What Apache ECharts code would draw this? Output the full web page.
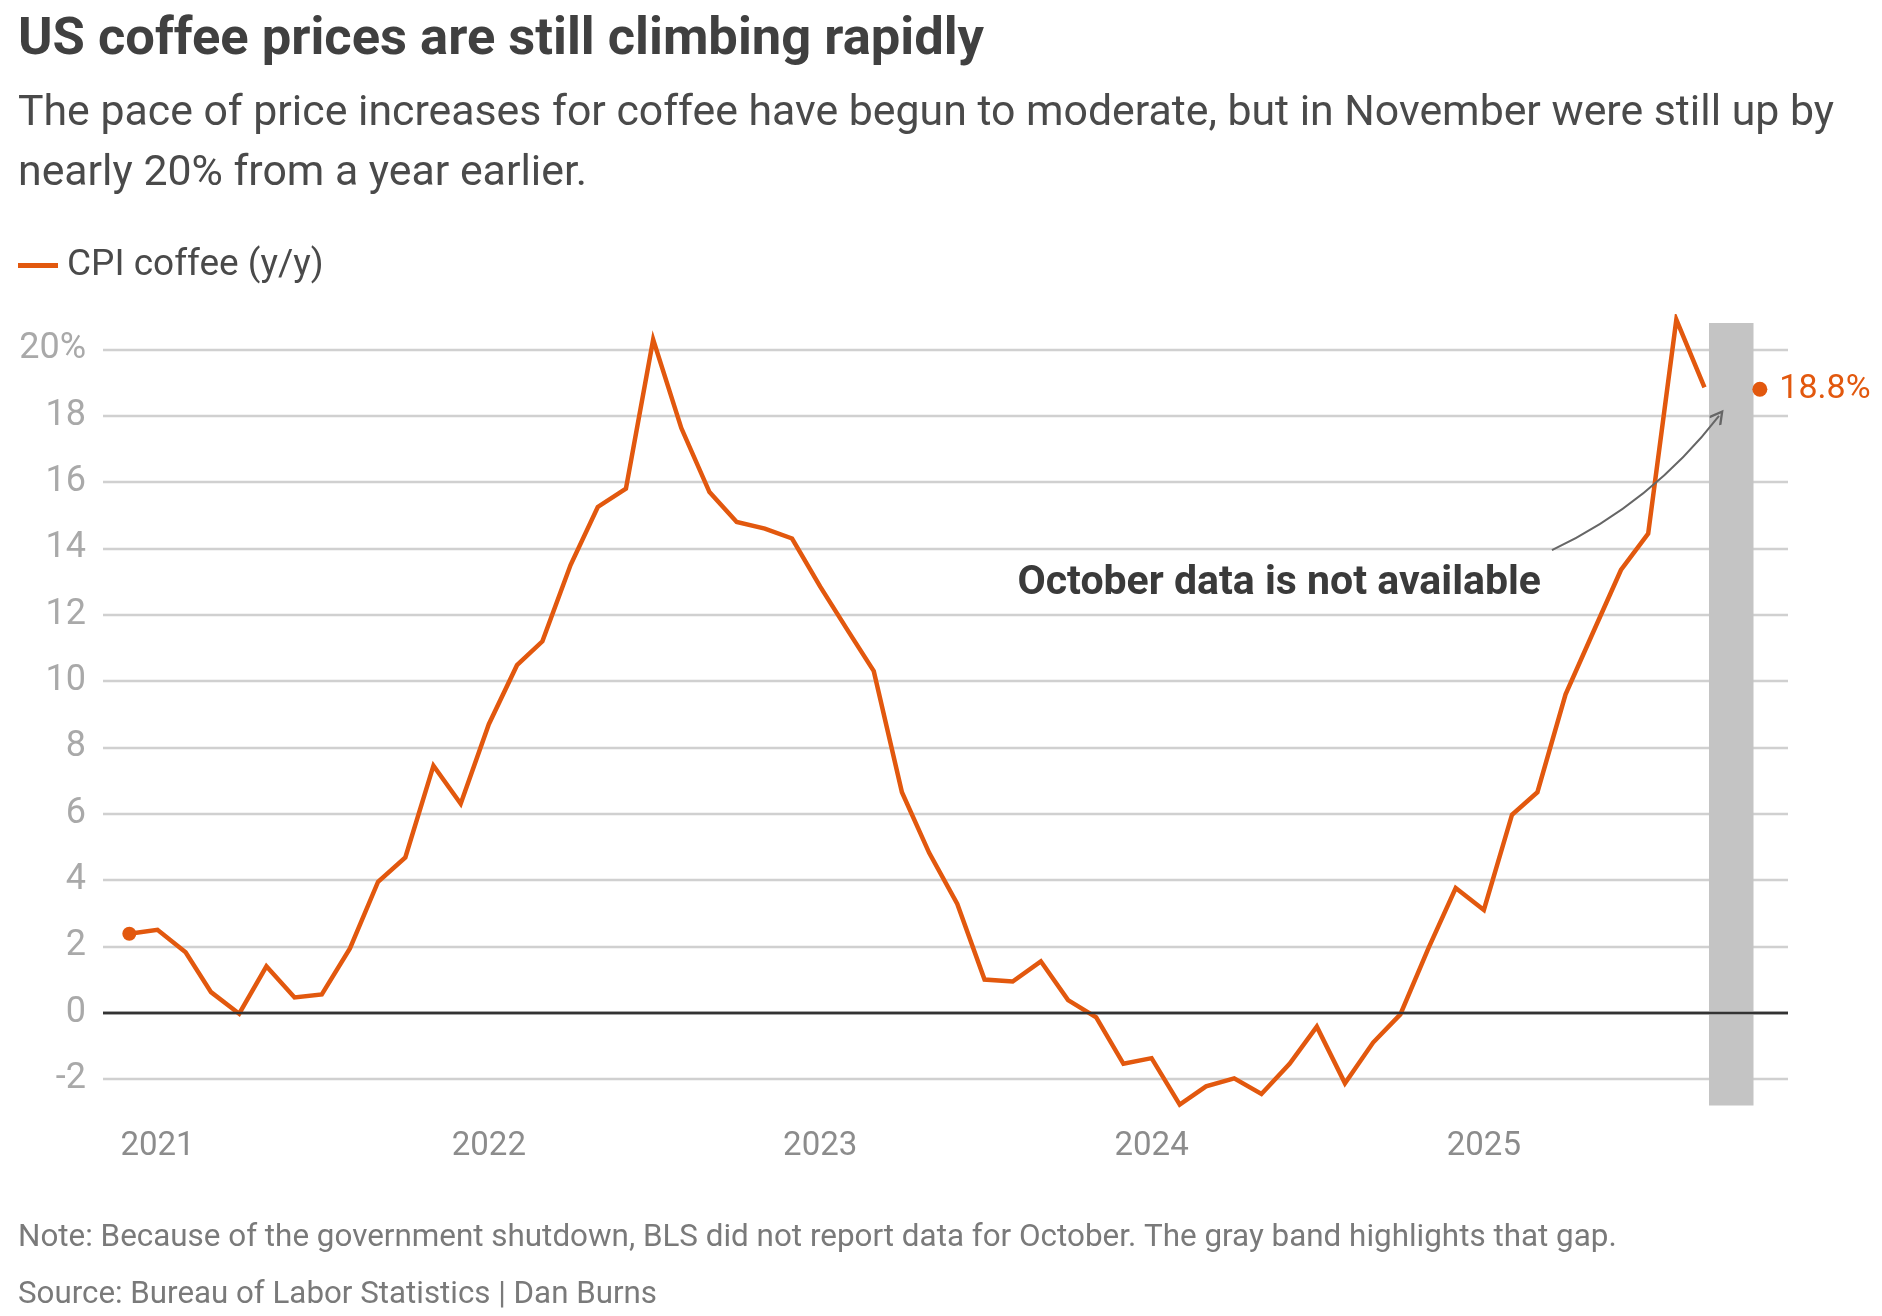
<!DOCTYPE html>
<html>
<head>
<meta charset="utf-8">
<title>US coffee prices are still climbing rapidly</title>
<script src="https://cdn.jsdelivr.net/npm/echarts@6.0.0/dist/echarts.min.js"></script>
<style>
  html, body { margin: 0; padding: 0; background: #fff; }
  #chart { width: 1882px; height: 1316px; }
</style>
</head>
<body>
<div id="chart"></div>
<script>
// ---- data (CPI coffee, y/y %) ----
var months = [
  '2020-12',
  '2021-01', '2021-02', '2021-03', '2021-04', '2021-05', '2021-06',
  '2021-07', '2021-08', '2021-09', '2021-10', '2021-11', '2021-12',
  '2022-01', '2022-02', '2022-03', '2022-04', '2022-05', '2022-06',
  '2022-07', '2022-08', '2022-09', '2022-10', '2022-11', '2022-12',
  '2023-01', '2023-02', '2023-03', '2023-04', '2023-05', '2023-06',
  '2023-07', '2023-08', '2023-09', '2023-10', '2023-11', '2023-12',
  '2024-01', '2024-02', '2024-03', '2024-04', '2024-05', '2024-06',
  '2024-07', '2024-08', '2024-09', '2024-10', '2024-11', '2024-12',
  '2025-01', '2025-02', '2025-03', '2025-04', '2025-05', '2025-06',
  '2025-07', '2025-08', '2025-09', '2025-10', '2025-11'
];
var cpiCoffee = [
  2.38,
  2.50, 1.82, 0.62, -0.03, 1.40, 0.46,
  0.55, 1.94, 3.95, 4.68, 7.45, 6.30,
  8.70, 10.48, 11.20, 13.50, 15.25, 15.80,
  20.30, 17.63, 15.70, 14.80, 14.60, 14.30,
  12.85, 11.50, 10.30, 6.65, 4.82, 3.28,
  1.00, 0.94, 1.55, 0.38, -0.14, -1.54,
  -1.37, -2.77, -2.22, -1.98, -2.45, -1.54,
  -0.42, -2.13, -0.90, -0.05, 1.95, 3.76,
  3.10, 5.97, 6.65, 9.60, 11.45, 13.35,
  14.45, 20.90, 18.86, null, 18.80
];
var yLabelled = [-2, 0, 2, 4, 6, 8, 10, 12, 14, 16, 18, 20];
var gapMonth = ['2025-09-06', '2025-10-25'];   // October: not reported
var gapRange = [-2.8, 20.8];
var arrowTip = ['2025-09-17', 18.0];
var arrowTail = ['2025-03-17', 13.95];

var orange = '#e2580e';
var ink = '#404040';
var muted = '#8c8c8c';
var font = 'Roboto, "Noto Sans", sans-serif';
var chevron = 'path://M2,12 L10,2 L18,12 L16.2,13.4 L10,5.6 L3.8,13.4 Z';

function toTime(s) {
  return (echarts.time && echarts.time.parse) ? +echarts.time.parse(s) : new Date(s).getTime();
}

// every value tick gets a line, only even ones are visible
var yMin = -3, yMax = 21;
var gridColors = [];
for (var v = yMin; v <= yMax; v++) {
  gridColors.push(v % 2 !== 0 ? 'rgba(0,0,0,0)' : (v === 0 ? '#333333' : '#d0d0d0'));
}

var seriesData = months.map(function (m, i) {
  var val = cpiCoffee[i];
  var item = { value: [m, val === null ? '-' : val] };
  if (i === 0) {
    item.symbol = 'circle';
    item.symbolSize = 14;
  }
  if (i === months.length - 1) {
    item.symbol = 'circle';
    item.symbolSize = 15;
    item.label = {
      show: true, position: 'right', distance: 12,
      formatter: function (p) { return p.value[1].toFixed(1) + '%'; },
      color: orange, fontSize: 34, fontFamily: font
    };
  }
  return item;
});

var chart = echarts.init(document.getElementById('chart'), null, { renderer: 'canvas' });
chart.setOption({
  animation: false,
  backgroundColor: '#ffffff',
  grid: { left: 103, right: 94, top: 316.3, bottom: 203.8, containLabel: false },
  legend: {
    data: ['CPI coffee (y/y)'],
    left: 18, top: 247, padding: 0,
    icon: 'rect', itemWidth: 40, itemHeight: 5,
    textStyle: { fontSize: 37, color: '#4a4a4a', fontFamily: font, padding: [0, 0, 0, 4] },
    selectedMode: false
  },
  xAxis: {
    type: 'time',
    min: '2020-11-02',
    max: '2025-12-02',
    minInterval: 300 * 86400000,
    maxInterval: 400 * 86400000,
    axisLine: { show: false },
    axisTick: { show: false },
    splitLine: { show: false },
    axisLabel: {
      formatter: '{yyyy}', color: muted, fontSize: 33, fontFamily: font,
      margin: 18, showMinLabel: false, showMaxLabel: false
    }
  },
  yAxis: {
    type: 'value',
    min: yMin, max: yMax, interval: 1,
    axisLine: { show: false },
    axisTick: { show: false },
    axisLabel: {
      formatter: function (val) {
        if (yLabelled.indexOf(val) < 0) return '';
        return val === 20 ? '20%' : String(val);
      },
      color: '#a9a9a9', fontSize: 36, fontFamily: font, margin: 17
    },
    splitLine: { lineStyle: { color: gridColors, width: 2.4 } }
  },
  series: [
    {
      name: 'CPI coffee (y/y)',
      type: 'line',
      data: seriesData,
      symbol: 'none',
      showSymbol: true,
      connectNulls: false,
      lineStyle: { color: orange, width: 4.5, join: 'miter' },
      itemStyle: { color: orange },
      emphasis: { disabled: true },
      markArea: {
        silent: true,
        itemStyle: { color: '#c4c4c4' },
        data: [[
          { xAxis: gapMonth[0], yAxis: gapRange[0] },
          { xAxis: gapMonth[1], yAxis: gapRange[1] }
        ]]
      },
      markLine: {
        silent: true,
        label: { show: false },
        emphasis: { disabled: true },
        symbol: ['none', 'none'],
        lineStyle: { color: '#333333', width: 2.4, type: 'solid' },
        data: [{ yAxis: 0 }]
      }
    },
    {
      // curved annotation arrow pointing at the missing month
      name: 'annotation',
      type: 'lines',
      coordinateSystem: 'cartesian2d',
      silent: true,
      z: 4,
      symbol: [chevron, 'none'],
      symbolSize: 15,
      lineStyle: { color: '#666666', width: 2, opacity: 1, curveness: 0.12 },
      emphasis: { disabled: true },
      data: [{
        coords: [
          [toTime(arrowTip[0]), arrowTip[1]],
          [toTime(arrowTail[0]), arrowTail[1]]
        ]
      }]
    }
  ],
  graphic: [
    { type: 'text', x: 18, y: 41, silent: true,
      style: { text: 'US coffee prices are still climbing rapidly', fill: ink,
               fontSize: 52.5, fontWeight: 'bold', fontFamily: font, verticalAlign: 'middle' } },
    { type: 'text', x: 18, y: 114, silent: true,
      style: { text: 'The pace of price increases for coffee have begun to moderate, but in November were still up by',
               fill: '#4a4a4a', fontSize: 42.8, fontFamily: font, verticalAlign: 'middle' } },
    { type: 'text', x: 18, y: 174, silent: true,
      style: { text: 'nearly 20% from a year earlier.',
               fill: '#4a4a4a', fontSize: 42.8, fontFamily: font, verticalAlign: 'middle' } },
    { type: 'text', x: 1541, y: 584, silent: true,
      style: { text: 'October data is not available', fill: '#3a3a3a',
               fontSize: 41, fontWeight: 'bold', fontFamily: font, align: 'right', verticalAlign: 'middle' } },
    { type: 'text', x: 18, y: 1238, silent: true,
      style: { text: 'Note: Because of the government shutdown, BLS did not report data for October. The gray band highlights that gap.',
               fill: '#7a7a7a', fontSize: 31.4, fontFamily: font, verticalAlign: 'middle' } },
    { type: 'text', x: 18, y: 1295, silent: true,
      style: { text: 'Source: Bureau of Labor Statistics | Dan Burns',
               fill: '#7a7a7a', fontSize: 31.3, fontFamily: font, verticalAlign: 'middle' } }
  ]
});
window.addEventListener('resize', function () { chart.resize(); });
</script>
</body>
</html>
